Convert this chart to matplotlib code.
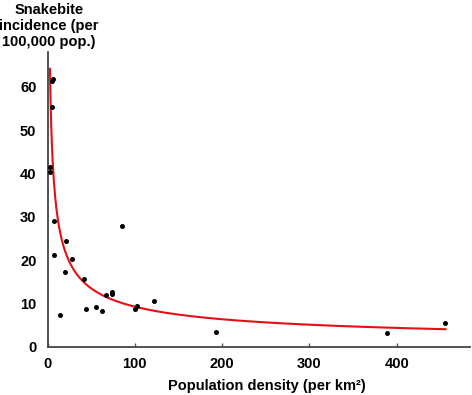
import numpy as np
import matplotlib
matplotlib.use("Agg")
import matplotlib.pyplot as plt

plt.rcParams["font.family"] = ["Liberation Sans", "DejaVu Sans"]

# districts: population density (per km2) vs snakebite incidence (per 100,000)
density = [6.4, 4.7, 5.5, 3.4, 2.7, 8.0, 7.0, 21.2, 28.5, 19.6, 14.8, 41.5, 44.2,
           56.0, 62.8, 67.3, 73.7, 73.7, 85.8, 100.8, 102.5, 121.5, 192.7, 388.8, 455.9]
incidence = [61.7, 61.4, 55.3, 41.5, 40.4, 29.0, 21.2, 24.5, 20.2, 17.2, 7.4, 15.7, 8.8,
             9.3, 8.4, 12.0, 12.7, 12.3, 27.9, 8.7, 9.5, 10.7, 3.5, 3.2, 5.5]

# power-law fit y = a * x^b
fit_a = 111.8
fit_b = -0.54
fit_range = (2.8, 456)

x_ticks = [0, 100, 200, 300, 400]
y_ticks = [0, 10, 20, 30, 40, 50, 60]

fig = plt.figure(figsize=(4.72, 3.95), dpi=100)
ax = fig.add_axes([47.5 / 472, 48 / 395, 422.5 / 472, 295 / 395])

xf = np.linspace(fit_range[0], fit_range[1], 600)
ax.plot(xf, fit_a * xf ** fit_b, color="#e60f14", lw=1.5, zorder=2)
ax.scatter(density, incidence, s=13, color="black", zorder=3, linewidths=0)

ax.set_xlim(0, 484)
ax.set_ylim(0, 68)
ax.set_xticks(x_ticks)
ax.set_yticks(y_ticks)
ax.tick_params(axis="x", direction="in", length=3, width=1, color="#555555",
               pad=7, labelsize=10.5)
ax.tick_params(axis="y", length=0, pad=8, labelsize=10.5)
for lab in ax.get_xticklabels() + ax.get_yticklabels():
    lab.set_fontweight("bold")

for s in ["top", "right"]:
    ax.spines[s].set_visible(False)
for s in ["left", "bottom"]:
    ax.spines[s].set_color("#444444")
    ax.spines[s].set_linewidth(1.3)

fig.text(267 / 472, 1 - 386 / 395, "Population density (per km\u00b2)",
         ha="center", va="center", fontsize=10.5, fontweight="bold")
fig.text(49 / 472, 1 - 26 / 395, "Snakebite\nincidence (per\n100,000 pop.)",
         ha="center", va="center", fontsize=10.5, fontweight="bold", linespacing=1.2)

fig.savefig("out.png", dpi=100)
